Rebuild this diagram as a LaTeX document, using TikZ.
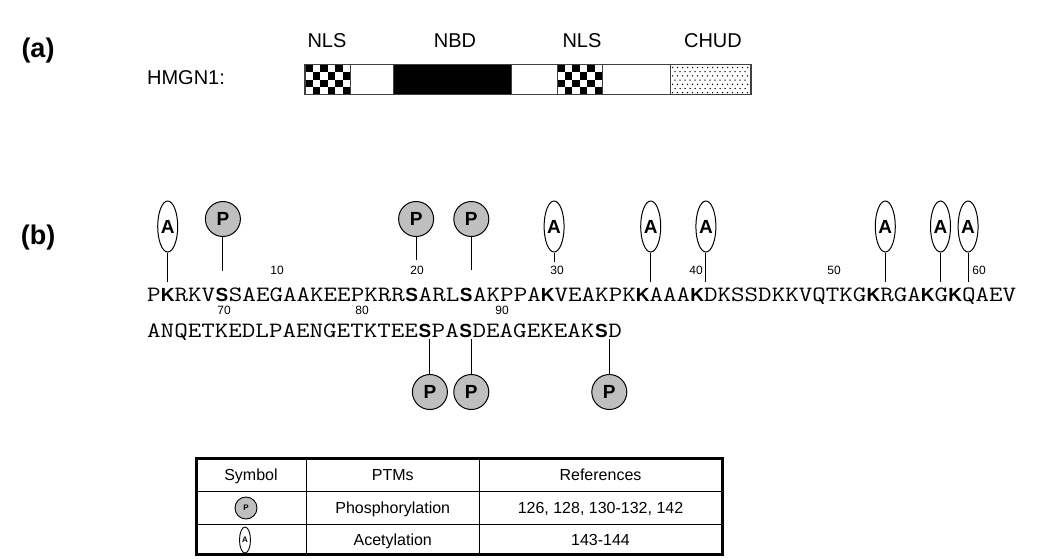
\documentclass[tikz,border=0pt]{standalone}
\usepackage{fontspec}
\usetikzlibrary{shapes.geometric}
\newfontfamily\arial{Liberation Sans}
\newfontfamily\seqf[FakeStretch=1.2]{Latin Modern Mono}
\newcommand\Bx[1]{\makebox[13.8pt][c]{\arial\bfseries\fontsize{19}{19}\selectfont #1}}
\tikzset{
  pmark/.style={circle, draw, fill=gray!50, minimum size=35pt, inner sep=0pt, line width=1pt,
    font=\arial\bfseries\fontsize{19}{19}\selectfont},
  amark/.style={ellipse, draw, fill=white, minimum width=20pt, minimum height=51pt, inner sep=0pt, line width=1pt,
    font=\arial\bfseries\fontsize{19}{19}\selectfont},
  stem/.style={line width=1pt},
  num/.style={font=\arial\fontsize{12}{12}\selectfont, inner sep=0pt},
  seqrow/.style={font=\seqf\fontsize{21.905}{26}\selectfont, inner sep=0pt, anchor=base west},
  dlabel/.style={font=\arial\fontsize{20}{20}\selectfont, inner sep=0pt},
  plabel/.style={font=\arial\bfseries\fontsize{27}{27}\selectfont, inner sep=0pt},
  tcell/.style={font=\arial\fontsize{16}{16}\selectfont, inner sep=0pt, anchor=base},
  barline/.style={draw=black!75, line width=1.2pt},
}
\begin{document}
\begin{tikzpicture}[x=1pt,y=-1pt]
\useasboundingbox[fill=white] (0,0) rectangle (1050,558);

% ---------- (a) ----------
\node[plabel] (la) at (38,51) {(a)};
\node[dlabel] (hmgn) at (186,77.5) {HMGN1:};
\node[dlabel] (nls1) at (327,41) {NLS};
\node[dlabel] (nbd) at (455,41) {NBD};
\node[dlabel] (nls2) at (582,41) {NLS};
\node[dlabel] (chud) at (713,41) {CHUD};

% checker blocks
\foreach \xo in {305,557}{
  \foreach \c in {0,...,5}{
    \foreach \r in {0,...,3}{
      \pgfmathtruncatemacro\pp{mod(\c+\r,2)}
      \ifnum\pp=0
        \fill[black] ({\xo+\c*7.5},{64.5+\r*7.5}) rectangle ++(7.5,7.5);
      \fi
    }
  }
}
% black NBD block
\fill[black] (393,64.5) rectangle (511,94.5);
% dotted CHUD block
\foreach \r in {0,...,6}{
  \pgfmathsetmacro\yy{67.5+\r*4.2}
  \pgfmathsetmacro\off{mod(\r,2)*2.5}
  \foreach \c in {0,...,15}{
    \pgfmathsetmacro\xx{672.5+\off+\c*5}
    \ifdim\xx pt<749pt \fill[black] (\xx,\yy) circle (0.75); \fi
  }
}
% segment borders
\foreach \xs in {350,393,511,557,602,670}{
  \draw[barline, line width=0.9pt] (\xs,64.5) -- (\xs,94.5);
}
\draw[barline] (305,64.5) rectangle (751,94.5);

% ---------- (b) ----------
\node[plabel] (lb) at (38,238) {(b)};

\node[seqrow] (row1) at (147,301) {P\Bx{K}RKV\Bx{S}SAEGAAKEEPKRR\Bx{S}ARL\Bx{S}AKPPA\Bx{K}VEAKPK\Bx{K}AAA\Bx{K}DKSSDKKVQTKG\Bx{K}RGA\Bx{K}G\Bx{K}QAEV};
\node[seqrow] (row2) at (147,337) {ANQETKEDLPAENGETKTEE\Bx{S}PA\Bx{S}DEAGEKEAK\Bx{S}D};

% residue numbers
\node[num] (n10) at (277,270) {10};
\node[num] (n20) at (417,270) {20};
\node[num] (n30) at (557,270) {30};
\node[num] (n40) at (696,270) {40};
\node[num] (n50) at (834,270) {50};
\node[num] (n60) at (979,270) {60};
\node[num] (n70) at (224,310.5) {70};
\node[num] (n80) at (362,310.5) {80};
\node[num] (n90) at (502,310.5) {90};

% acetylation markers (above)
\foreach \i/\e in {2/282,30/262,37/282,41/282,54/282,58/282,60/282}{
  \node[amark] (a\i) at ({147+(\i-0.5)*13.8},226.5) {A};
  \coordinate (ae\i) at ({147+(\i-0.5)*13.8},\e);
  \draw[stem] (a\i.south) -- (ae\i);
}
% phosphorylation markers (above)
\foreach \i/\e in {6/271,20/260,24/270}{
  \node[pmark] (p\i) at ({147+(\i-0.5)*13.8},219) {P};
  \coordinate (pe\i) at ({147+(\i-0.5)*13.8},\e);
  \draw[stem] (p\i.south) -- (pe\i);
}
% phosphorylation markers (below)
\foreach \i in {21,24,34}{
  \node[pmark] (q\i) at ({147+(\i-0.5)*13.8},392) {P};
  \coordinate (qe\i) at ({147+(\i-0.5)*13.8},339);
  \draw[stem] (qe\i) -- (q\i.north);
}

% ---------- table ----------
\draw[line width=1pt] (306.5,458) -- (306.5,554);
\draw[line width=1pt] (479,458) -- (479,554);
\draw[line width=1pt] (196,491) -- (722,491);
\draw[line width=1pt] (196,524) -- (722,524);
\draw[line width=3pt] (196,458) rectangle (722,554);

\node[tcell] (h1) at (251,480) {Symbol};
\node[tcell] (h2) at (392.75,480) {PTMs};
\node[tcell] (h3) at (600.5,480) {References};
\node[circle, draw, fill=gray!50, minimum size=22pt, inner sep=0pt, line width=0.9pt,
      font=\arial\bfseries\fontsize{8}{8}\selectfont] (sp) at (246,508) {P};
\node[tcell] (t21) at (392.75,513.5) {Phosphorylation};
\node[tcell] (t22) at (600.5,513.5) {126, 128, 130-132, 142};
\node[ellipse, draw, fill=white, minimum width=11pt, minimum height=26pt, inner sep=0pt, line width=0.9pt,
      font=\arial\bfseries\fontsize{8}{8}\selectfont] (sa) at (245,540) {A};
\node[tcell] (t31) at (392.75,545) {Acetylation};
\node[tcell] (t32) at (600.5,545) {143-144};
\end{tikzpicture}
\end{document}
